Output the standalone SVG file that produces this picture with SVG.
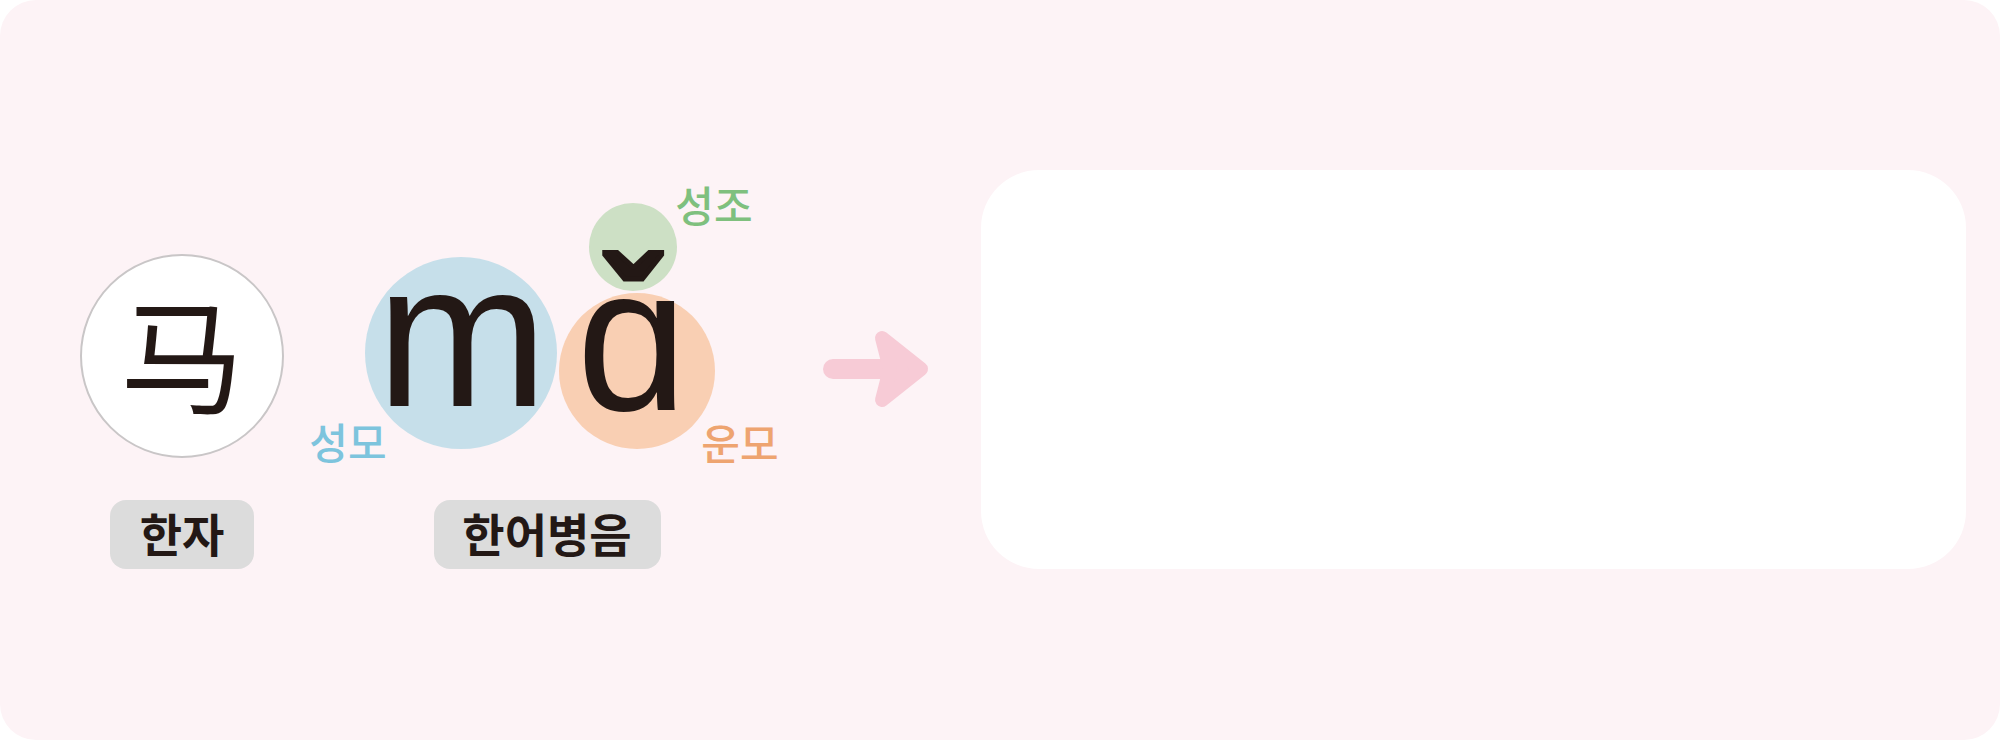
<svg xmlns="http://www.w3.org/2000/svg" width="2000" height="740" viewBox="0 0 2000 740">
<style>
.kr{font-family:"Noto Sans CJK KR","Noto Sans CJK SC",sans-serif;text-anchor:middle}
.lab{font-size:42px;font-weight:500}
.pill{fill:#dcdcdc}
.pilltxt{font-size:46px;font-weight:bold;fill:#231815}
.glyph{fill:#231815;text-anchor:middle}
</style>
<rect x="0" y="0" width="2000" height="740" fill="#ffffff"/>
<rect x="0" y="0" width="2000" height="740" rx="36" ry="36" fill="#fdf3f6"/>
<g id="result-box"><rect x="981" y="170" width="985" height="399" rx="58" ry="58" fill="#ffffff"/></g>
<g id="hanzi">
<circle cx="182" cy="356" r="101" fill="#ffffff" stroke="#c9c6c7" stroke-width="2"/>
<text x="182" y="404" class="glyph" font-family="Noto Sans CJK SC, sans-serif" font-size="124">马</text>
</g>
<g id="initial">
<circle cx="461" cy="353" r="96" fill="#c6dfea"/>
<text x="462" y="406" class="glyph" font-family="Liberation Sans, DejaVu Sans, sans-serif" font-size="206">m</text>
<text x="348" y="459" class="kr lab" fill="#7dc4dd">성모</text>
</g>
<g id="tone">
<circle cx="633" cy="247" r="44" fill="#cde0c5"/>
<text x="714" y="222" class="kr lab" fill="#7fc07e">성조</text>
</g>
<g id="final">
<circle cx="637" cy="371" r="78" fill="#f9cfb3"/>
<text class="glyph" font-family="Liberation Sans, DejaVu Sans, sans-serif"><tspan x="632" y="410" font-size="206" textLength="111" lengthAdjust="spacingAndGlyphs">ɑ</tspan><tspan x="631" y="370" font-size="158" font-weight="bold" stroke="#231815" stroke-width="5">ˇ</tspan></text>
<text x="740" y="460" class="kr lab" fill="#eea470">운모</text>
</g>
<g id="label-hanzi">
<rect x="110" y="500" width="144" height="69" rx="16" class="pill"/>
<text x="182" y="552" class="kr pilltxt">한자</text>
</g>
<g id="label-pinyin">
<rect x="434" y="500" width="227" height="69" rx="16" class="pill"/>
<text x="547" y="552" class="kr pilltxt">한어병음</text>
</g>
<g id="connectors">
<line x1="833" y1="369" x2="895" y2="369" stroke="#f7cbd6" stroke-width="20" stroke-linecap="round"/>
<path d="M 882 338 L 921 369 L 882 400 L 890 369 Z" fill="#f7cbd6" stroke="#f7cbd6" stroke-width="14" stroke-linejoin="round"/>
</g>
</svg>
